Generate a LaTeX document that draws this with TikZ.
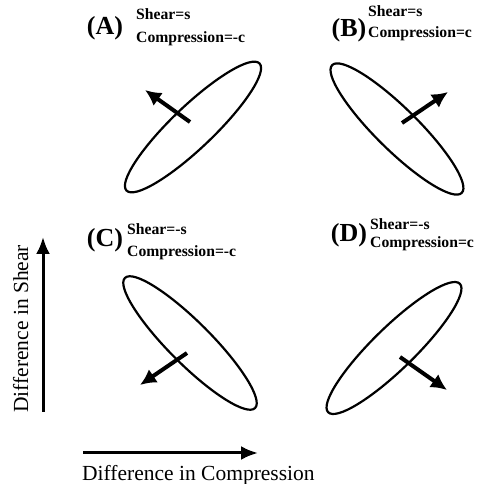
\documentclass[tikz,border=0pt]{standalone}
\usepackage{fontspec}
\setmainfont{Liberation Serif}
\usetikzlibrary{arrows.meta}
\begin{document}
\begin{tikzpicture}[x=1pt,y=1pt,
  ell/.style={line width=2.2pt},
  vec/.style={line width=4pt,-{Latex[length=16pt,width=16pt]}},
  axis/.style={line width=3pt,-{Latex[length=17pt,width=14pt]}},
  tag/.style={font=\fontsize{26}{26}\selectfont\bfseries,inner sep=0pt},
  small/.style={font=\fontsize{15.7}{15.7}\selectfont\bfseries,inner sep=0pt,anchor=base west},
  axlab/.style={font=\fontsize{21.5}{21.5}\selectfont,inner sep=0pt}]
\useasboundingbox (0,0) rectangle (480,484);
% centres
\coordinate (cA) at (193,357);
\coordinate (cB) at (397,355);
\coordinate (cC) at (190,141);
\coordinate (cD) at (394,136);
% ellipses
\draw[ell,rotate around={43.7:(cA)}] (cA) ellipse [x radius=92,y radius=21];
\draw[ell,rotate around={-44.6:(cB)}] (cB) ellipse [x radius=91,y radius=21];
\draw[ell,rotate around={-45:(cC)}] (cC) ellipse [x radius=92,y radius=21];
\draw[ell,rotate around={44.3:(cD)}] (cD) ellipse [x radius=92,y radius=21];
% arrows
\coordinate (tA) at (190,362); \coordinate (hA) at (145,394);
\coordinate (tB) at (402,361); \coordinate (hB) at (448,392);
\coordinate (tC) at (187,131); \coordinate (hC) at (140,99);
\coordinate (tD) at (400,127); \coordinate (hD) at (447,94);
\draw[vec] (tA) -- (hA);
\draw[vec] (tB) -- (hB);
\draw[vec] (tC) -- (hC);
\draw[vec] (tD) -- (hD);
% labels
\node[tag,anchor=base] (lA) at (105,449) {(A)};
\node[small] (sA) at (136,464) {Shear=s};
\node[small] (pA) at (136,441) {Compression=-c};
\node[tag,anchor=base] (lB) at (349,447) {(B)};
\node[small] (sB) at (368,467) {Shear=s};
\node[small] (pB) at (368,446) {Compression=c};
\node[tag,anchor=base] (lC) at (105,237) {(C)};
\node[small] (sC) at (127,249) {Shear=-s};
\node[small] (pC) at (127,227) {Compression=-c};
\node[tag,anchor=base] (lD) at (349,242) {(D)};
\node[small] (sD) at (370,254) {Shear=-s};
\node[small] (pD) at (370,236) {Compression=c};
% axes
\coordinate (v0) at (43,72); \coordinate (v1) at (43,247);
\coordinate (h0) at (83,31); \coordinate (h1) at (258,31);
\draw[axis] (v0) -- (v1);
\draw[axis] (h0) -- (h1);
\node[axlab,anchor=base west,rotate=90] (ly) at (28,71) {Difference in Shear};
\node[axlab,anchor=base west] (lx) at (82,4) {Difference in Compression};
\end{tikzpicture}
\end{document}
